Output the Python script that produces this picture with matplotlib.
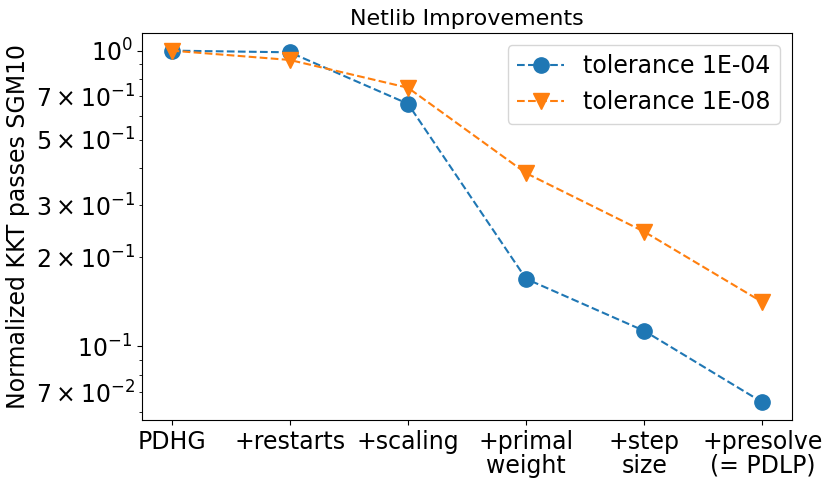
import math
import matplotlib
matplotlib.use("Agg")
import matplotlib.pyplot as plt
from matplotlib.ticker import FuncFormatter

# kategoriler ve degerler
categories = ["PDHG", "+restarts", "+scaling", "+primal\nweight", "+step\nsize", "+presolve\n(= PDLP)"]
tol_1e04 = [1.0, 0.987, 0.661, 0.169, 0.1127, 0.0646]
tol_1e08 = [1.0, 0.93, 0.749, 0.385, 0.244, 0.141]


def minor_label(v, pos):
    # sadece 2, 3, 5, 7 katlarini etiketle
    e = math.floor(math.log10(v) + 1e-9)
    m = round(v / 10 ** e)
    if m in (2, 3, 5, 7):
        return r"$%d\times10^{%d}$" % (m, e)
    return ""


fig, ax = plt.subplots(figsize=(8.31, 4.86), dpi=100)
fig.subplots_adjust(left=0.171, right=0.953, top=0.932, bottom=0.136)

x = list(range(len(categories)))
ax.plot(x, tol_1e04, "o--", color="#1f77b4", markersize=11, label="tolerance 1E-04")
ax.plot(x, tol_1e08, "v--", color="#ff7f0e", markersize=11, label="tolerance 1E-08")

ax.set_yscale("log")
ax.yaxis.set_minor_formatter(FuncFormatter(minor_label))
ax.set_xticks(x)
ax.set_xticklabels(categories, fontsize=17, linespacing=1.0)
ax.tick_params(axis="y", which="both", labelsize=17)
ax.set_ylabel("Normalized KKT passes SGM10", fontsize=17)
ax.set_title("Netlib Improvements", fontsize=16)
ax.legend(loc="upper right", fontsize=17)

fig.savefig("out.png", dpi=100)
